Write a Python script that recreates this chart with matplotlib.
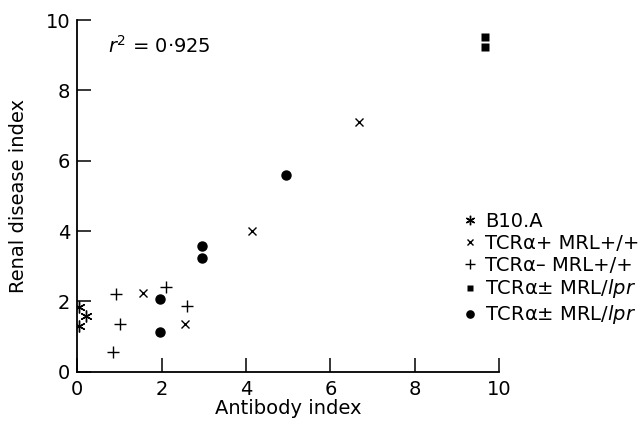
import matplotlib
matplotlib.use("Agg")
import matplotlib.pyplot as plt

plt.rcParams['font.family'] = ['DejaVu Sans']
plt.rcParams['mathtext.fontset'] = 'dejavusans'

# values
b10a_x = [0.04, 0.21, 0.04]
b10a_y = [1.83, 1.57, 1.29]

tcr_pos_x = [1.55, 2.55, 4.15, 6.68]
tcr_pos_y = [2.24, 1.37, 3.99, 7.10]

tcr_neg_x = [0.92, 1.01, 0.84, 2.10, 2.59]
tcr_neg_y = [2.20, 1.37, 0.55, 2.41, 1.88]

lpr_sq_x = [9.67, 9.67]
lpr_sq_y = [9.51, 9.22]

lpr_ci_x = [1.96, 1.96, 2.95, 2.95, 4.95]
lpr_ci_y = [2.08, 1.13, 3.56, 3.24, 5.58]

ticks = [0, 2, 4, 6, 8, 10]
r2_text = '$r^2$ = 0·925'

fig = plt.figure(figsize=(6.42, 4.23), dpi=100)
ax = fig.add_axes([0.1204, 0.1213, 0.6570, 0.8314])

ax.plot(b10a_x, b10a_y, ls='none', marker=(6, 2, 0), ms=8.5, mew=1.0,
        color='black', label='B10.A')
ax.plot(tcr_pos_x, tcr_pos_y, ls='none', marker='x', ms=6, mew=1.0,
        color='black', label='TCRα+ MRL+/+')
ax.plot(tcr_neg_x, tcr_neg_y, ls='none', marker='+', ms=9, mew=1.0,
        color='black', label='TCRα– MRL+/+')
ax.plot(lpr_sq_x, lpr_sq_y, ls='none', marker='s', ms=5.8, mec='none',
        color='black', label='TCRα± MRL/$\\mathit{lpr}$')
ax.plot(lpr_ci_x, lpr_ci_y, ls='none', marker='o', ms=6.5,
        color='black', label='TCRα± MRL/$\\mathit{lpr}$')

ax.set_xlim(0, 10)
ax.set_ylim(0, 10)
ax.set_xticks(ticks)
ax.set_yticks(ticks)
ax.spines['top'].set_visible(False)
ax.spines['right'].set_visible(False)
for s in ['left', 'bottom']:
    ax.spines[s].set_linewidth(1.3)
ax.tick_params(direction='in', length=10, width=1.1, labelsize=14)
ax.tick_params(axis='x', pad=6)
ax.tick_params(axis='y', pad=5)

ax.set_xlabel('Antibody index', fontsize=14, labelpad=0)
ax.set_ylabel('Renal disease index', fontsize=14, labelpad=13)

ax.text(0.73, 9.06, r2_text, fontsize=14, ha='left', va='baseline')

leg = ax.legend(loc='upper left', bbox_to_anchor=(0.912, 0.455),
                frameon=False, fontsize=14, handlelength=0.8,
                handletextpad=0.4, labelspacing=0.15, borderpad=0,
                borderaxespad=0, markerscale=0.8)

fig.savefig('out.png', dpi=100)
